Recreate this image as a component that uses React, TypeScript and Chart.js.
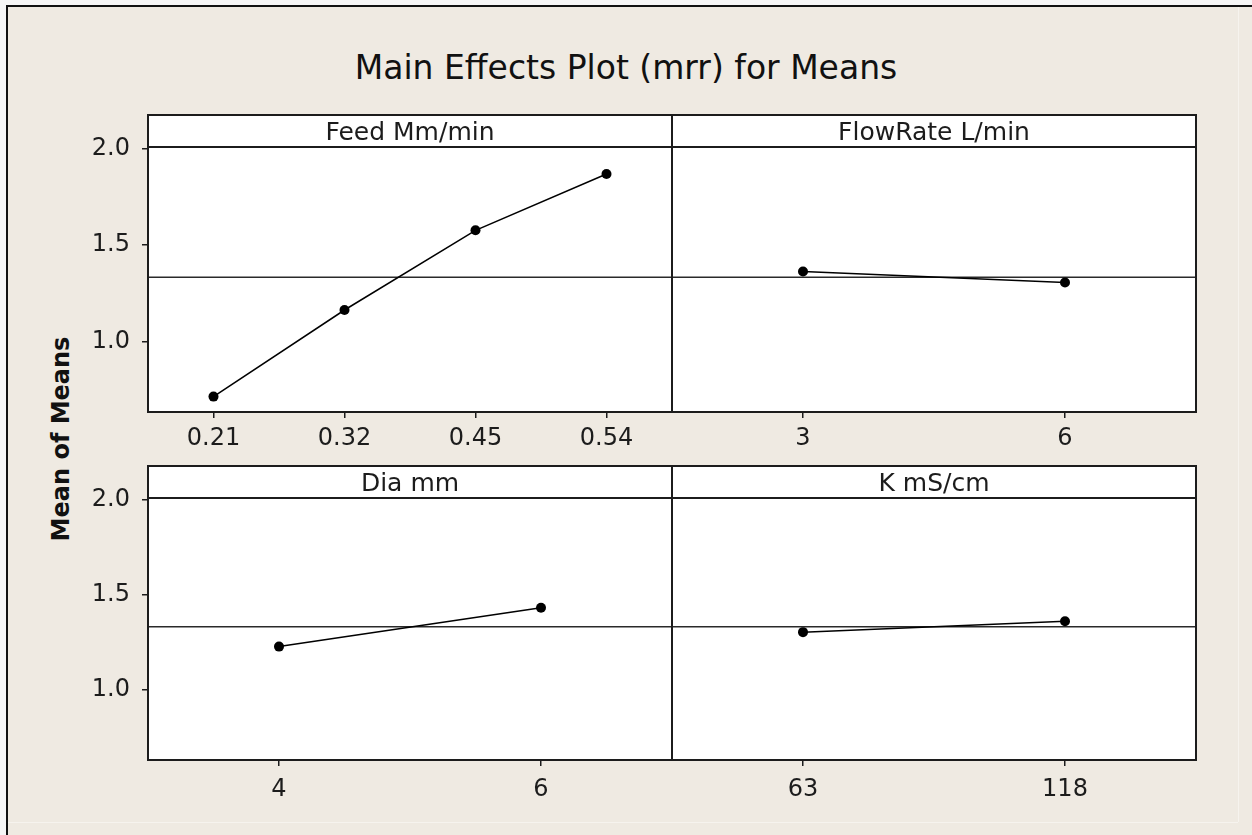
import React, { useEffect, useRef } from "react";
import { Chart, registerables } from "chart.js";

Chart.register(...registerables);

// ---------- data ----------
const TITLE = "Main Effects Plot (mrr) for Means";
const Y_LABEL = "Mean of Means";
const GRAND_MEAN = 1.333;
const Y_TICKS = [1.0, 1.5, 2.0];
const Y_MIN = 0.633;
const Y_MAX = 2.01;

const PANEL_NAMES = ["Feed Mm/min", "FlowRate L/min", "Dia mm", "K mS/cm"];

const FEED_LABELS = ["0.21", "0.32", "0.45", "0.54"];
const FEED_MEANS = [0.713, 1.163, 1.577, 1.87];

const FLOW_LABELS = ["3", "6"];
const FLOW_MEANS = [1.363, 1.306];

const DIA_LABELS = ["4", "6"];
const DIA_MEANS = [1.229, 1.433];

const K_LABELS = ["63", "118"];
const K_MEANS = [1.305, 1.362];

// ---------- layout ----------
const W = 1252;
const H = 835;
const COLS = [
  { left: 148, right: 672 },
  { left: 672, right: 1196 },
];
const ROWS = [
  { strip: 115, top: 147, bottom: 412, xPad: 6 },
  { strip: 466, top: 498, bottom: 760, xPad: 9 },
];
const Y_AXIS_W = 90;
const X_AXIS_H = 50;
const FONT = "'DejaVu Sans', Verdana, sans-serif";
const INK = "#1c1c1c";

const framePlugin = {
  id: "panelFrame",
  beforeDraw(chart: any, _args: any, opts: any) {
    const { ctx, chartArea: a } = chart;
    ctx.save();
    ctx.fillStyle = "#ffffff";
    ctx.fillRect(a.left, opts.stripTop, a.right - a.left, a.bottom - opts.stripTop);
    ctx.restore();
  },
  beforeDatasetsDraw(chart: any, _args: any, opts: any) {
    const { ctx, chartArea: a } = chart;
    const y = chart.scales.y.getPixelForValue(opts.mean);
    ctx.save();
    ctx.strokeStyle = "#2a2a2a";
    ctx.lineWidth = 1.6;
    ctx.beginPath();
    ctx.moveTo(a.left, y);
    ctx.lineTo(a.right, y);
    ctx.stroke();
    ctx.restore();
  },
  afterDraw(chart: any, _args: any, opts: any) {
    const { ctx, chartArea: a } = chart;
    ctx.save();
    ctx.strokeStyle = INK;
    ctx.lineWidth = 2;
    ctx.strokeRect(a.left, opts.stripTop, a.right - a.left, a.bottom - opts.stripTop);
    ctx.beginPath();
    ctx.moveTo(a.left, a.top);
    ctx.lineTo(a.right, a.top);
    ctx.stroke();
    ctx.fillStyle = INK;
    ctx.font = `25px ${FONT}`;
    ctx.textAlign = "center";
    ctx.textBaseline = "alphabetic";
    ctx.fillText(opts.name, (a.left + a.right) / 2, opts.stripTop + 24.5);
    ctx.restore();
  },
};

type PanelProps = {
  col: number;
  row: number;
  name: string;
  labels: string[];
  values: number[];
  showY: boolean;
};

function Panel({ col, row, name, labels, values, showY }: PanelProps) {
  const ref = useRef<HTMLCanvasElement | null>(null);
  useEffect(() => {
    if (!ref.current) return;
    const c = COLS[col];
    const r = ROWS[row];
    const chart = new Chart(ref.current, {
      type: "line",
      data: {
        labels,
        datasets: [
          {
            data: values,
            borderColor: "#000000",
            borderWidth: 1.5,
            pointRadius: 5,
            pointBackgroundColor: "#000000",
            pointBorderWidth: 0,
            tension: 0,
            fill: false,
          },
        ],
      },
      plugins: [framePlugin as any],
      options: {
        animation: false,
        responsive: false,
        maintainAspectRatio: false,
        events: [],
        layout: {
          padding: {
            left: showY ? c.left - Y_AXIS_W : c.left,
            right: W - c.right,
            top: r.top,
            bottom: H - r.bottom - X_AXIS_H,
          },
        },
        plugins: {
          legend: { display: false },
          tooltip: { enabled: false },
          title: { display: false },
          panelFrame: { stripTop: r.strip, name, mean: GRAND_MEAN },
        } as any,
        scales: {
          x: {
            type: "category",
            offset: true,
            grid: {
              display: true,
              drawOnChartArea: false,
              drawTicks: true,
              tickLength: 6,
              color: INK,
              lineWidth: 1.5,
              offset: false,
            },
            border: { display: false },
            ticks: {
              font: { family: FONT, size: 24 },
              color: INK,
              padding: r.xPad,
              maxRotation: 0,
              autoSkip: false,
            },
            afterFit: (s: any) => {
              s.height = X_AXIS_H;
            },
          },
          y: {
            type: "linear",
            display: showY,
            min: Y_MIN,
            max: Y_MAX,
            afterBuildTicks: (s: any) => {
              s.ticks = Y_TICKS.map((v) => ({ value: v }));
            },
            grid: {
              display: true,
              drawOnChartArea: false,
              drawTicks: true,
              tickLength: 6,
              color: INK,
              lineWidth: 1.5,
            },
            border: { display: false },
            ticks: {
              font: { family: FONT, size: 24 },
              color: INK,
              padding: 12,
              callback: (v: any) => Number(v).toFixed(1),
            },
            afterFit: (s: any) => {
              s.width = showY ? Y_AXIS_W : 0;
            },
          },
        },
      } as any,
    });
    return () => chart.destroy();
  }, [col, row, name, labels, values, showY]);
  return (
    <canvas
      ref={ref}
      width={W}
      height={H}
      style={{ position: "absolute", left: 0, top: 0, width: W, height: H }}
    />
  );
}

export default function App() {
  return (
    <div
      style={{
        position: "fixed",
        left: 0,
        top: 0,
        width: W,
        height: H,
        background: "#f6f6f6",
        overflow: "hidden",
      }}
    >
      <div
        style={{
          position: "absolute",
          left: 6,
          top: 5,
          width: W - 6,
          height: H - 5,
          background: "#efeae2",
          borderLeft: "2px solid #111",
          borderTop: "2px solid #111",
          boxSizing: "border-box",
        }}
      />
      <div style={{ position: "absolute", left: 1238, top: 7, width: 1, height: 815, background: "#f6f3ee" }} />
      <div style={{ position: "absolute", left: 8, top: 822, width: 1230, height: 1, background: "#f6f3ee" }} />
      <div
        style={{
          position: "absolute",
          left: 0,
          top: 48,
          width: W,
          textAlign: "center",
          font: `33px ${FONT}`,
          lineHeight: "40px",
          color: "#111",
          whiteSpace: "nowrap",
        }}
      >
        {TITLE}
      </div>
      <div
        style={{
          position: "absolute",
          left: 62 - 150,
          top: 439 - 15,
          width: 300,
          height: 30,
          lineHeight: "30px",
          textAlign: "center",
          font: `bold 24px ${FONT}`,
          color: "#111",
          transform: "rotate(-90deg)",
          transformOrigin: "150px 15px",
          whiteSpace: "nowrap",
        }}
      >
        {Y_LABEL}
      </div>
      <Panel col={0} row={0} name={PANEL_NAMES[0]} labels={FEED_LABELS} values={FEED_MEANS} showY={true} />
      <Panel col={1} row={0} name={PANEL_NAMES[1]} labels={FLOW_LABELS} values={FLOW_MEANS} showY={false} />
      <Panel col={0} row={1} name={PANEL_NAMES[2]} labels={DIA_LABELS} values={DIA_MEANS} showY={true} />
      <Panel col={1} row={1} name={PANEL_NAMES[3]} labels={K_LABELS} values={K_MEANS} showY={false} />
    </div>
  );
}
